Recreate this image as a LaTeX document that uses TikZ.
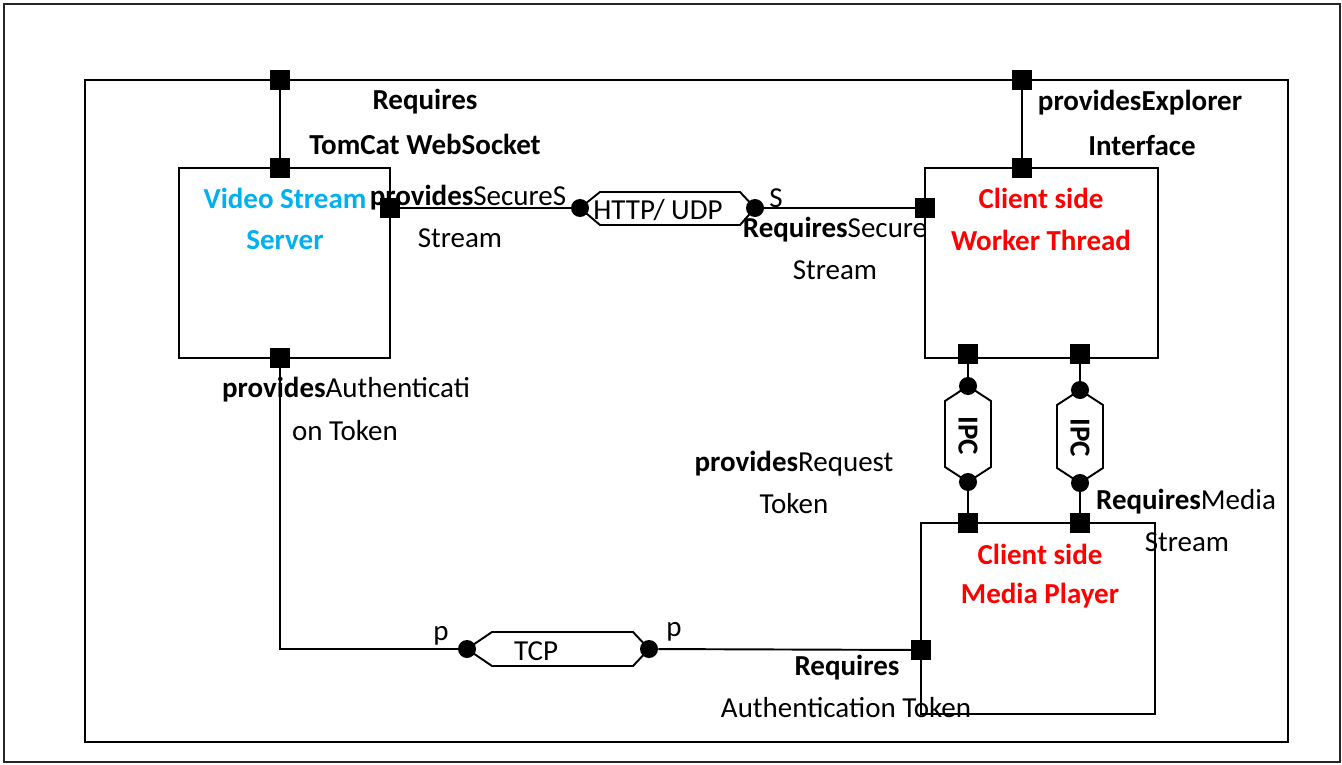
\documentclass[tikz,border=0pt]{standalone}
\usepackage{fontspec}
\setmainfont{Carlito}
\usetikzlibrary{calc}
\definecolor{srvblue}{RGB}{0,176,240}
\definecolor{clired}{RGB}{255,0,0}

\tikzset{
  every node/.style={inner sep=0pt, font=\fontsize{16.5}{20}\selectfont},
  port/.style={fill=black, minimum size=0.39cm},
  joint/.style={circle, fill=black, minimum size=0.36cm},
  comp/.style={draw, line width=1.2pt},
  wire/.style={line width=1.1pt},
  srvtitle/.style={text=srvblue, font=\fontsize{16.5}{20}\selectfont\bfseries},
  clititle/.style={text=clired, font=\fontsize{16.5}{20}\selectfont\bfseries},
  boldlbl/.style={font=\fontsize{16.5}{20}\selectfont\bfseries}
}

\begin{document}
\begin{tikzpicture}[x=0.02cm, y=-0.02cm]
\useasboundingbox (0,0) rectangle (1342,764);
\draw[line width=1.3pt, black!85] (4,4) rectangle (1340,762);
\draw[comp] (85,80) rectangle (1288,742);

% components
\node[comp, minimum width=4.22cm, minimum height=3.8cm] (vss) at (284.5,263) {};
\node[comp, minimum width=4.66cm, minimum height=3.8cm] (cwt) at (1041.5,263) {};
\node[comp, minimum width=4.68cm, minimum height=3.82cm] (cmp) at (1038,618.5) {};

\node[srvtitle] (vss1) at (285,198) {Video Stream};
\node[srvtitle] (vss2) at (285,240) {Server};
\node[clititle] (cwt1) at (1041,198) {Client side};
\node[clititle] (cwt2) at (1041,240) {Worker Thread};
\node[clititle] (cmp1) at (1040,554) {Client side};
\node[clititle] (cmp2) at (1040,596) {Media Player};

% joints of the links
\node[joint] (hl) at (580,208) {};
\node[joint] (hr) at (755,208) {};
\node[joint] (tl) at (467,649) {};
\node[joint] (tr) at (649,649) {};
\node[joint] (il1) at (968,386) {};
\node[joint] (il2) at (968,482) {};
\node[joint] (ir1) at (1080,390) {};
\node[joint] (ir2) at (1080,483) {};

\draw[wire] (hl.center) -- ++(20,-16) -- ($(hr.center)+(-15,-16)$) -- (hr.center)
  -- ++(-15,17) -- ($(hl.center)+(20,17)$) -- cycle;
\draw[wire] (tl.center) -- ++(25,-17) -- ($(tr.center)+(-16,-17)$) -- (tr.center)
  -- ++(-16,17) -- ($(tl.center)+(25,17)$) -- cycle;
\draw[wire] (il1.center) -- ++(23,15) -- ($(il2.center)+(23,-15)$) -- (il2.center)
  -- ++(-23,-15) -- ($(il1.center)+(-23,15)$) -- cycle;
\draw[wire] (ir1.center) -- ++(23,15) -- ($(ir2.center)+(23,-15)$) -- (ir2.center)
  -- ++(-23,-15) -- ($(ir1.center)+(-23,15)$) -- cycle;

\node (http) at (658,210) {HTTP/ UDP};
\node (tcp) at (536,651) {TCP};
\node[boldlbl, rotate=-90] (ipc1) at (968,436) {IPC};
\node[boldlbl, rotate=-90] (ipc2) at (1080,438) {IPC};

% ports
\node[port] (fp1) at (280,80) {};
\node[port] (fp2) at (1022,80) {};
\node[port] (vp1) at (280,168) {};
\node[port] (vp2) at (390,208) {};
\node[port] (vp3) at (280,358) {};
\node[port] (wp1) at (1022,168) {};
\node[port] (wp2) at (925,208) {};
\node[port] (wp3) at (968,354) {};
\node[port] (wp4) at (1080,354) {};
\node[port] (mp1) at (968,523) {};
\node[port] (mp2) at (1080,523) {};
\node[port] (mp3) at (921,650) {};

% connectors
\draw[wire] (fp1) -- (vp1);
\draw[wire] (fp2) -- (wp1);
\draw[wire] (vp2) -- (hl);
\draw[wire] (hr) -- (wp2);
\draw[wire] (wp3) -- (il1);
\draw[wire] (il2) -- (mp1);
\draw[wire] (wp4) -- (ir1);
\draw[wire] (ir2) -- (mp2);
\draw[wire] (vp3) |- (tl);
\draw[wire] (tr) -- (mp3);

% port labels
\node[boldlbl] (l1) at (425,102) {Requires};
\node[boldlbl] (l2) at (425,144) {TomCat WebSocket};
\node (l3) at (468,198) {\textbf{provides}SecureS};
\node (l4) at (460,238) {Stream};
\node (l5) at (776,198) {S};
\node (l6) at (835,230) {\textbf{Requires}Secure};
\node (l7) at (835,270) {Stream};
\node[boldlbl] (l8) at (1140,103) {providesExplorer};
\node[boldlbl] (l9) at (1142,146) {Interface};
\node (l10) at (346,390) {\textbf{provides}Authenticati};
\node (l11) at (345,431) {on Token};
\node (l12) at (794,464) {\textbf{provides}Request};
\node (l13) at (794,504) {Token};
\node (l14) at (1186,502) {\textbf{Requires}Media};
\node (l15) at (1187,542) {Stream};
\node (l16) at (441,636) {p};
\node (l17) at (674,632) {p};
\node[boldlbl] (l18) at (847,668) {Requires};
\node (l19) at (846,708) {Authentication Token};
\end{tikzpicture}
\end{document}
